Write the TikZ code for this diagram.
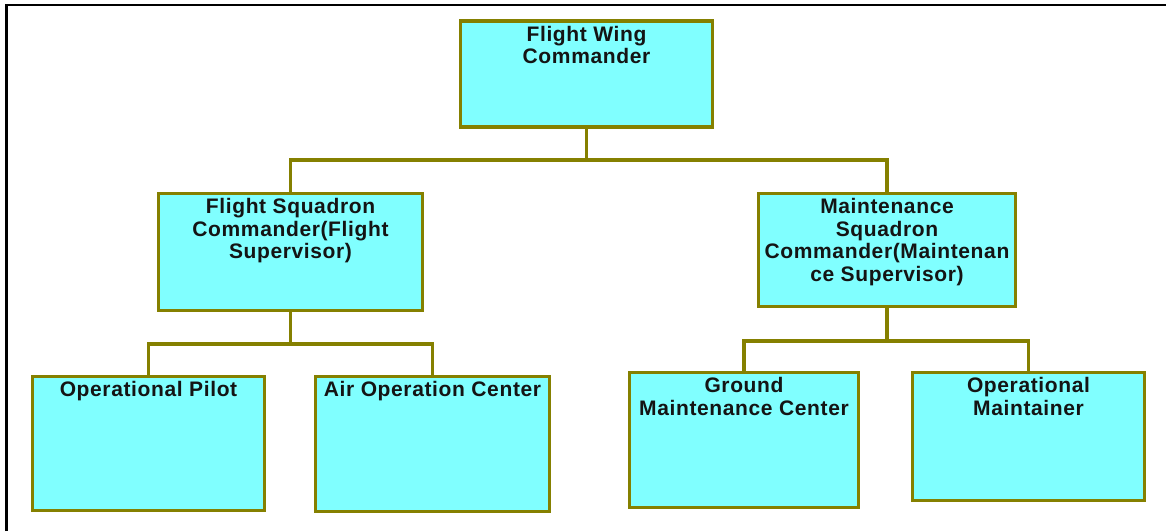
\documentclass[tikz,border=0pt]{standalone}
\usepackage{fontspec}
\setmainfont{Liberation Sans}
\newfontfamily\boxfont[LetterSpace=3]{Liberation Sans}
\usetikzlibrary{calc}
\definecolor{boxfill}{HTML}{80FFFF}
\definecolor{boxline}{HTML}{858000}
\definecolor{txtcol}{HTML}{141414}
\tikzset{
  orgbox/.style={draw=boxline, fill=boxfill, line width=3.5pt, rectangle, inner sep=0pt, outer sep=0pt},
  orgtxt/.style={anchor=north, inner sep=0pt, align=center, text=txtcol,
    font=\boxfont\fontsize{21}{22.4}\selectfont\bfseries},
  conn/.style={draw=boxline, line width=3.2pt},
  frameline/.style={draw=black, line width=2.5pt}
}
\begin{document}
\begin{tikzpicture}[x=1pt,y=-1pt]
\useasboundingbox (0,0) rectangle (1166,531);
\fill[white] (0,0) rectangle (1166,531);
\draw[frameline] (6.5,531) -- (6.5,5) -- (1166,5);

% boxes (centre, width, height)
\node[orgbox, minimum width=252pt, minimum height=106pt] (fwc) at (586.5,74) {};
\node[orgbox, minimum width=264pt, minimum height=117pt] (fsc) at (290.5,252) {};
\node[orgbox, minimum width=257pt, minimum height=113pt] (msc) at (887,250) {};
\node[orgbox, minimum width=232pt, minimum height=134pt] (op) at (148.5,443.5) {};
\node[orgbox, minimum width=234pt, minimum height=135pt] (aoc) at (432.5,444) {};
\node[orgbox, minimum width=229pt, minimum height=135pt] (gmc) at (744,440) {};
\node[orgbox, minimum width=232pt, minimum height=128pt] (om) at (1028.5,436.5) {};

% texts
\node[orgtxt] (fwct) at ($(fwc.north)+(0,5)$) {Flight Wing\\Commander};
\node[orgtxt] (fsct) at ($(fsc.north)+(0,5)$) {Flight Squadron\\Commander(Flight\\Supervisor)};
\node[orgtxt] (msct) at ($(msc.north)+(0,5)$) {Maintenance\\Squadron\\Commander(Maintenan\\ce Supervisor)};
\node[orgtxt] (opt) at ($(op.north)+(0,5)$) {Operational Pilot};
\node[orgtxt] (aoct) at ($(aoc.north)+(0,5)$) {Air Operation Center};
\node[orgtxt] (gmct) at ($(gmc.north)+(0,5)$) {Ground\\Maintenance Center};
\node[orgtxt] (omt) at ($(om.north)+(0,5)$) {Operational\\Maintainer};

% connectors
\coordinate (j1) at (586.5,160);
\coordinate (j2) at (290.5,344);
\coordinate (j3) at (887,341);
\draw[conn] (fwc.south) -- (j1);
\draw[conn] (fsc.north) |- (j1) -| (msc.north);
\draw[conn] (fsc.south) -- (j2);
\draw[conn] (op.north) |- (j2) -| (aoc.north);
\draw[conn] (msc.south) -- (j3);
\draw[conn] (gmc.north) |- (j3) -| (om.north);
\end{tikzpicture}
\end{document}
